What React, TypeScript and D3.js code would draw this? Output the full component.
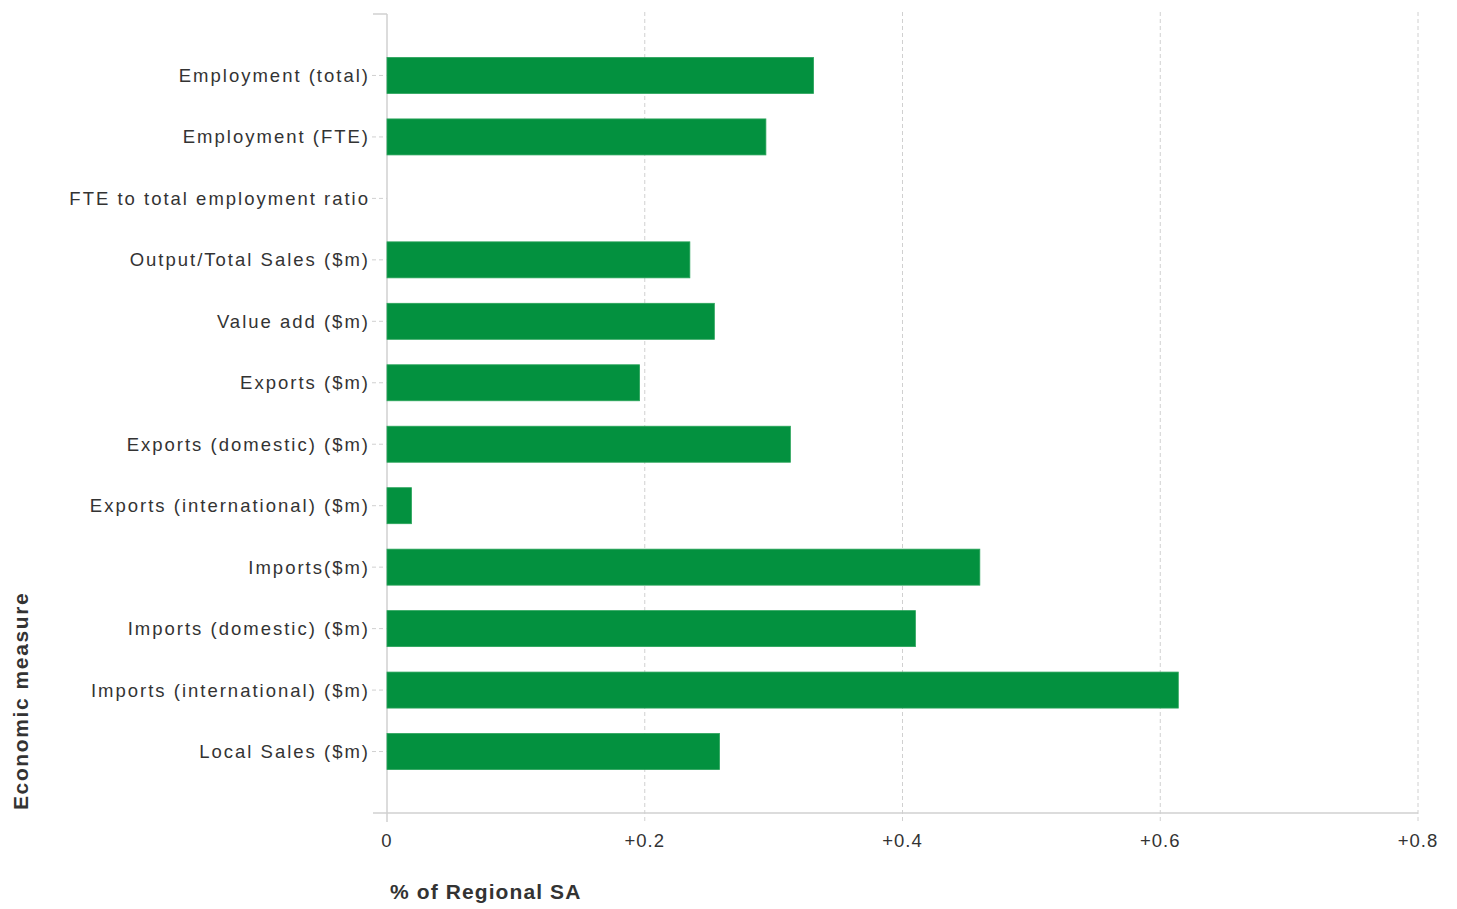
import React from "react";
import * as d3 from "d3";

const categories = [
  "Employment (total)",
  "Employment (FTE)",
  "FTE to total employment ratio",
  "Output/Total Sales ($m)",
  "Value add ($m)",
  "Exports ($m)",
  "Exports (domestic) ($m)",
  "Exports (international) ($m)",
  "Imports($m)",
  "Imports (domestic) ($m)",
  "Imports (international) ($m)",
  "Local Sales ($m)",
];
const values = [0.331, 0.294, 0, 0.235, 0.254, 0.196, 0.313, 0.019, 0.46, 0.41, 0.614, 0.258];
const xTicks = [0, 0.2, 0.4, 0.6, 0.8];
const xTickLabels = ["0", "+0.2", "+0.4", "+0.6", "+0.8"];

export default function App() {
  const W = 1457, H = 909;
  const left = 387, right = 1418, top = 14, bottom = 813;
  const x = d3.scaleLinear().domain([0, 0.8]).range([left, right]);
  const y = d3.scalePoint<string>().domain(categories).range([top, bottom]).padding(1);
  const barH = 36;
  const font = "Arial, 'Liberation Sans', sans-serif";
  const grid = "#d0d0d0";
  const ls = 2.0;
  return (
    <svg width={W} height={H} style={{ position: "absolute", left: 0, top: 0 }} fontFamily={font}>
      <rect width={W} height={H} fill="#fff" />
      {xTicks.slice(1).map((t) => (
        <line key={t} x1={x(t)} x2={x(t)} y1={12} y2={822} stroke={grid} strokeDasharray="4,3" />
      ))}
      <line x1={left} x2={left} y1={top} y2={822} stroke={grid} strokeWidth={1.5} />
      <line x1={373} x2={right} y1={bottom} y2={bottom} stroke={grid} strokeWidth={1.5} />
      <line x1={373} x2={left} y1={top} y2={top} stroke={grid} strokeWidth={1.5} />
      {categories.map((c, i) => (
        <g key={c}>
          <line x1={372} x2={left} y1={y(c)!} y2={y(c)!} stroke={grid} strokeDasharray="4,3" />
          {values[i] > 0 && (
            <rect
              x={x(0)}
              y={y(c)! - barH / 2}
              width={x(values[i]) - x(0)}
              height={barH}
              fill="#03913f"
              stroke="#2aa45a"
              strokeWidth={0.8}
            />
          )}
          <text
            x={368 + ls}
            y={y(c)!}
            dy="0.35em"
            textAnchor="end"
            fontSize={18.5}
            letterSpacing={ls}
            fill="#333"
          >
            {c}
          </text>
        </g>
      ))}
      {xTicks.map((t, i) => (
        <text key={t} x={x(t)} y={847} textAnchor="middle" fontSize={18.5} letterSpacing={1} fill="#333">
          {xTickLabels[i]}
        </text>
      ))}
      <text x={390} y={899} fontSize={21} fontWeight="bold" letterSpacing={1.1} fill="#333">
        % of Regional SA
      </text>
      <text
        transform="translate(28,810) rotate(-90)"
        fontSize={21}
        fontWeight="bold"
        letterSpacing={1.6}
        fill="#333"
      >
        Economic measure
      </text>
    </svg>
  );
}
